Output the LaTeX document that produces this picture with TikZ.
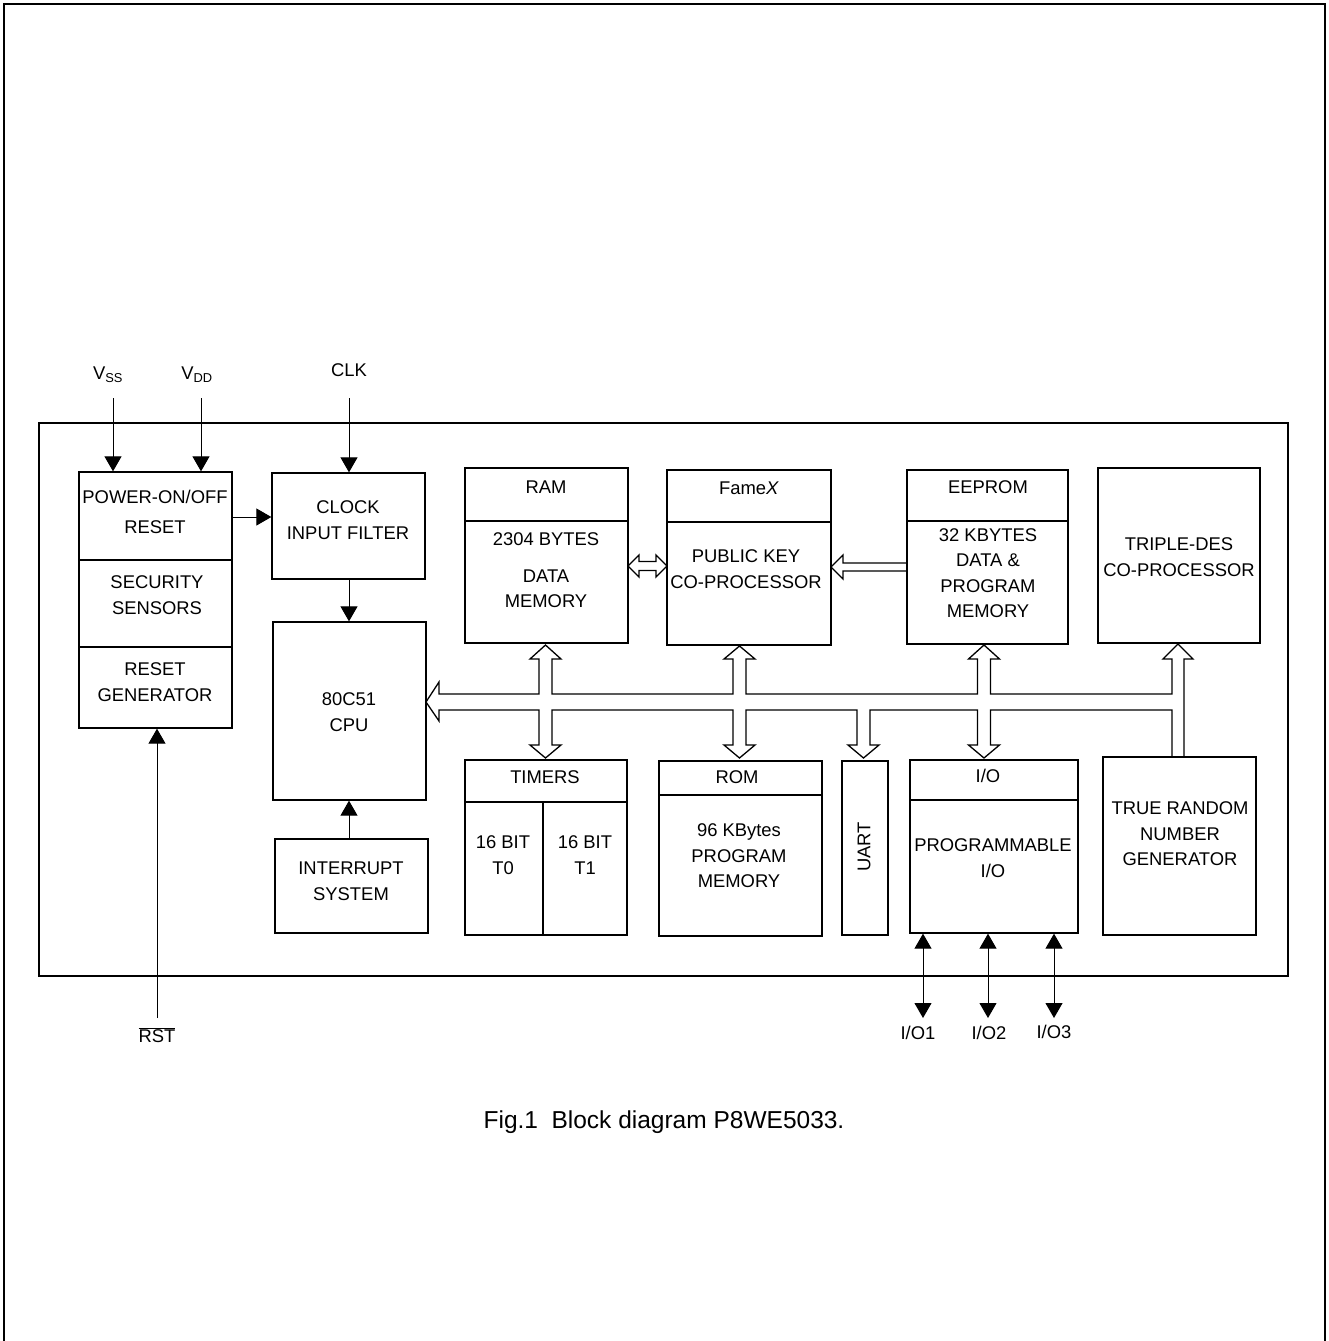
\documentclass[tikz,border=0pt]{standalone}
\usepackage{fontspec}
\setmainfont{Liberation Sans}
\usetikzlibrary{arrows.meta}

\newcommand{\Blk}[5]{% ime, levo, zgoraj, desno, spodaj
	\node[blk, minimum width={#4-#2}, minimum height={#5-#3}] (#1) at ({(#2+#4)/2},{(#3+#5)/2}) {};
}
\newcommand{\BrUp}[2]{% veja navzgor: x sredine, y konice
	-- ({#1-6.5},694) -- ({#1-6.5},659) -- ({#1-15.5},659) -- (#1,#2) -- ({#1+15.5},659) -- ({#1+6.5},659) -- ({#1+6.5},694)}
\newcommand{\BrDn}[1]{% veja navzdol: x sredine
	-- ({#1+6.5},710) -- ({#1+6.5},745) -- ({#1+15.5},745) -- (#1,758) -- ({#1-15.5},745) -- ({#1-6.5},745) -- ({#1-6.5},710)}

\tikzset{
	blk/.style={draw, line width=1.3pt, inner sep=0pt},
	txt/.style={align=center, font=\fontsize{18.4}{25.5}\selectfont, inner sep=0pt},
	sig/.style={-{Triangle[width=17pt,length=15pt]}, line width=1pt},
	sigb/.style={{Triangle[width=17pt,length=15pt]}-{Triangle[width=17pt,length=15pt]}, line width=1pt},
	bus/.style={line width=1.3pt, line join=miter}
}

\begin{document}
\begin{tikzpicture}[x=1pt,y=-1pt]
	\useasboundingbox (0,0) rectangle (1328,1341);
	\draw[line width=2pt] (4,1341) -- (4,4) -- (1325,4) -- (1325,1341);
	\Blk{chip}{39}{423}{1288}{976}
	
	% bloki
	\Blk{pwr}{79}{472}{232}{728}
	\draw[line width=1.3pt] (pwr.west |- 0,560) -- (pwr.east |- 0,560);
	\draw[line width=1.3pt] (pwr.west |- 0,647) -- (pwr.east |- 0,647);
	\Blk{clkf}{272}{473}{425}{579}
	\Blk{cpu}{273}{622}{426}{800}
	\Blk{intr}{275}{839}{428}{933}
	\Blk{ram}{465}{468}{628}{643}
	\draw[line width=1.3pt] (ram.west |- 0,521) -- (ram.east |- 0,521);
	\Blk{fame}{667}{470}{831}{645}
	\draw[line width=1.3pt] (fame.west |- 0,522) -- (fame.east |- 0,522);
	\Blk{eep}{907}{470}{1068}{644}
	\draw[line width=1.3pt] (eep.west |- 0,521) -- (eep.east |- 0,521);
	\Blk{tdes}{1098}{468}{1260}{643}
	\Blk{tim}{465}{760}{627}{935}
	\draw[line width=1.3pt] (tim.west |- 0,802) -- (tim.east |- 0,802);
	\draw[line width=1.3pt] (543,802) -- (tim.south -| 543,0);
	\Blk{rom}{659}{761}{822}{936}
	\draw[line width=1.3pt] (rom.west |- 0,795) -- (rom.east |- 0,795);
	\Blk{uart}{842}{761}{888}{935}
	\Blk{io}{910}{760}{1078}{933}
	\draw[line width=1.3pt] (io.west |- 0,800) -- (io.east |- 0,800);
	\Blk{trng}{1103}{757}{1256}{935}
	
	% napisi
	\node[txt] (pwrt) at (155,512) {POWER-ON/OFF\\[4pt]RESET};
	\node[txt] (sect) at (157,595) {SECURITY\\SENSORS};
	\node[txt] (rgent) at (155,682) {RESET\\GENERATOR};
	\node[txt] (clkft) at (348,520) {CLOCK\\INPUT FILTER};
	\node[txt] (cput) at (349,712) {80C51\\CPU};
	\node[txt] (intrt) at (351,881) {INTERRUPT\\SYSTEM};
	\node[txt] (ramh) at (546,487) {RAM};
	\node[txt] (ramt) at (546,539) {2304 BYTES};
	\node[txt] (ramd) at (546,589) {DATA\\MEMORY};
	\node[txt] (fameh) at (749,488) {Fame\textit{X}};
	\node[txt] (famet) at (746,569) {PUBLIC KEY\\CO-PROCESSOR};
	\node[txt] (eeph) at (988,487) {EEPROM};
	\node[txt] (eept) at (988,573) {32 KBYTES\\DATA \&\\PROGRAM\\MEMORY};
	\node[txt] (tdest) at (1179,557) {TRIPLE-DES\\CO-PROCESSOR};
	\node[txt] (timh) at (545,777) {TIMERS};
	\node[txt] (timt0) at (503,855) {16 BIT\\T0};
	\node[txt] (timt1) at (585,855) {16 BIT\\T1};
	\node[txt] (romh) at (737,777) {ROM};
	\node[txt] (romt) at (739,856) {96 KBytes\\PROGRAM\\MEMORY};
	\node[txt, rotate=90] (uartt) at (864,847) {UART};
	\node[txt] (ioh) at (988,776) {I/O};
	\node[txt] (iot) at (993,858) {PROGRAMMABLE\\I/O};
	\node[txt] (trngt) at (1180,834) {TRUE RANDOM\\NUMBER\\GENERATOR};
	
	% zunanji priklopi
	\node[txt] (vss) at (108,375) {V\textsubscript{SS}};
	\node[txt] (vdd) at (197,375) {V\textsubscript{DD}};
	\node[txt] (clk) at (349,370) {CLK};
	\node[txt] (rst) at (157,1035) {$\overline{\mbox{RST}}$};
	\node[txt] (io1) at (918,1033) {I/O1};
	\node[txt] (io2) at (989,1033) {I/O2};
	\node[txt] (io3) at (1054,1032) {I/O3};
	\coordinate (vssin) at (113,398);
	\coordinate (vddin) at (201,398);
	\coordinate (clkin) at (349,398);
	\coordinate (rstin) at (157,1018);
	\coordinate (io1p) at (923,1018);
	\coordinate (io2p) at (988,1018);
	\coordinate (io3p) at (1054,1018);
	\draw[sig] (vssin) -- (pwr.north -| vssin);
	\draw[sig] (vddin) -- (pwr.north -| vddin);
	\draw[sig] (clkin) -- (clkf.north -| clkin);
	\draw[sig] (rstin) -- (pwr.south -| rstin);
	\draw[sigb] (io.south -| io1p) -- (io1p);
	\draw[sigb] (io.south -| io2p) -- (io2p);
	\draw[sigb] (io.south -| io3p) -- (io3p);
	
	% notranje povezave
	\draw[sig] (pwr.east |- 0,517) -- (clkf.west |- 0,517);
	\draw[sig] (clkf.south -| 349,0) -- (cpu.north -| 349,0);
	\draw[sig] (intr.north -| 349,0) -- (cpu.south -| 349,0);
	
	% vodilo
	\draw[bus] (426,702) -- (439,682) -- (439,694)
		\BrUp{545.5}{645} \BrUp{739.5}{646} \BrUp{984}{645}
		-- (1172,694) -- (1172,659) -- (1163,659) -- (1178,644) -- (1193,659) -- (1184,659) -- (1184,757)
		-- (1172,757) -- (1172,710)
		\BrDn{984} \BrDn{863.5} \BrDn{739.5} \BrDn{545.5}
		-- (439,710) -- (439,721) -- cycle;
	\draw[bus] (628,566) -- (639,555) -- (639,561.5) -- (656,561.5) -- (656,555) -- (667,566)
		-- (656,577) -- (656,570.5) -- (639,570.5) -- (639,577) -- cycle;
	\draw[bus] (907,563) -- (843,563) -- (843,555) -- (831,567) -- (843,579) -- (843,571) -- (907,571);
	
	\node[txt, font=\fontsize{24.5}{28}\selectfont] (cap) at (664,1122) {Fig.1\hspace{0.55em}Block diagram P8WE5033.};
\end{tikzpicture}
\end{document}
